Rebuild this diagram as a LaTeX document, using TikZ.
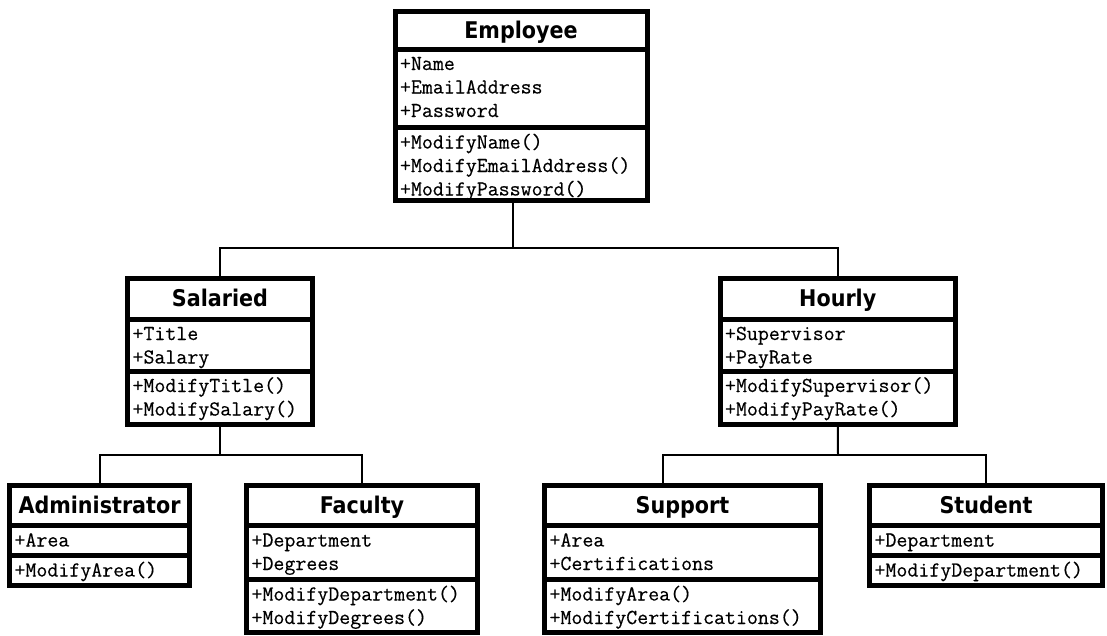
\documentclass[tikz,border=0pt]{standalone}
\usepackage{fontspec}
\newfontfamily\classfont{DejaVu Sans Condensed}
\newfontfamily\memberfont{Latin Modern Mono}[FakeBold=0.4]
\tikzset{
  classname/.style={draw, line width=5pt, outer sep=0pt, inner sep=0pt, anchor=north west,
    text height=17pt, text depth=1pt, font=\classfont\bfseries\fontsize{23}{26}\selectfont},
  members/.style={draw, line width=5pt, outer sep=0pt, inner xsep=5pt, inner ysep=0pt,
    text height=21pt, anchor=north west, align=left, font=\memberfont\fontsize{21.3}{23.5}\selectfont},
  link/.style={draw, line width=2pt}
}
\begin{document}
\begin{tikzpicture}[x=1pt,y=-1pt]
\useasboundingbox (0,0) rectangle (1107,635);

% Employee
\node[classname, minimum width=252, minimum height=37.5] (emp) at (395,11.5) {Employee};
\node[members, text width=242, text depth=57.5] (emp-attr) at (emp.south west) {+Name\\+EmailAddress\\+Password};
\node[members, text width=242, text depth=51.5] (emp-ops) at (emp-attr.south west) {+ModifyName()\\+ModifyEmailAddress()\\+ModifyPassword()};

% Salaried and Hourly
\node[classname, minimum width=185, minimum height=41] (sal) at (127.5,278) {Salaried};
\node[members, text width=175, text depth=31] (sal-attr) at (sal.south west) {+Title\\+Salary};
\node[members, text width=175, text depth=32] (sal-ops) at (sal-attr.south west) {+ModifyTitle()\\+ModifySalary()};

\node[classname, minimum width=235.5, minimum height=41] (hour) at (720,278) {Hourly};
\node[members, text width=225.5, text depth=31] (hour-attr) at (hour.south west) {+Supervisor\\+PayRate};
\node[members, text width=225.5, text depth=32] (hour-ops) at (hour-attr.south west) {+ModifySupervisor()\\+ModifyPayRate()};

% bottom row
\node[classname, minimum width=180, minimum height=40] (adm) at (9.5,485.5) {Administrator};
\node[members, text width=170, text depth=9] (adm-attr) at (adm.south west) {+Area};
\node[members, text width=170, text depth=9] (adm-ops) at (adm-attr.south west) {+ModifyArea()};

\node[classname, minimum width=231, minimum height=40] (fac) at (246.5,485.5) {Faculty};
\node[members, text width=221, text depth=33] (fac-attr) at (fac.south west) {+Department\\+Degrees};
\node[members, text width=221, text depth=31.5] (fac-ops) at (fac-attr.south west) {+ModifyDepartment()\\+ModifyDegrees()};

\node[classname, minimum width=276, minimum height=40] (sup) at (544.5,485.5) {Support};
\node[members, text width=266, text depth=33] (sup-attr) at (sup.south west) {+Area\\+Certifications};
\node[members, text width=266, text depth=31.5] (sup-ops) at (sup-attr.south west) {+ModifyArea()\\+ModifyCertifications()};

\node[classname, minimum width=233, minimum height=40] (stu) at (869.5,485.5) {Student};
\node[members, text width=223, text depth=9] (stu-attr) at (stu.south west) {+Department};
\node[members, text width=223, text depth=9] (stu-ops) at (stu-attr.south west) {+ModifyDepartment()};

% connectors
\coordinate (bus1) at (513,248);
\coordinate (bus2) at (220,455);
\coordinate (bus3) at (838,455);
\path[link] (emp-ops.south -| bus1) -- (bus1);
\path[link] (sal.north) |- (bus1) -| (hour.north);
\path[link] (sal-ops.south) -- (bus2);
\path[link] (adm.north) |- (bus2) -| (fac.north);
\path[link] (hour-ops.south) -- (bus3);
\path[link] ([xshift=-20pt]sup.north) |- (bus3) -| (stu.north);
\end{tikzpicture}
\end{document}
